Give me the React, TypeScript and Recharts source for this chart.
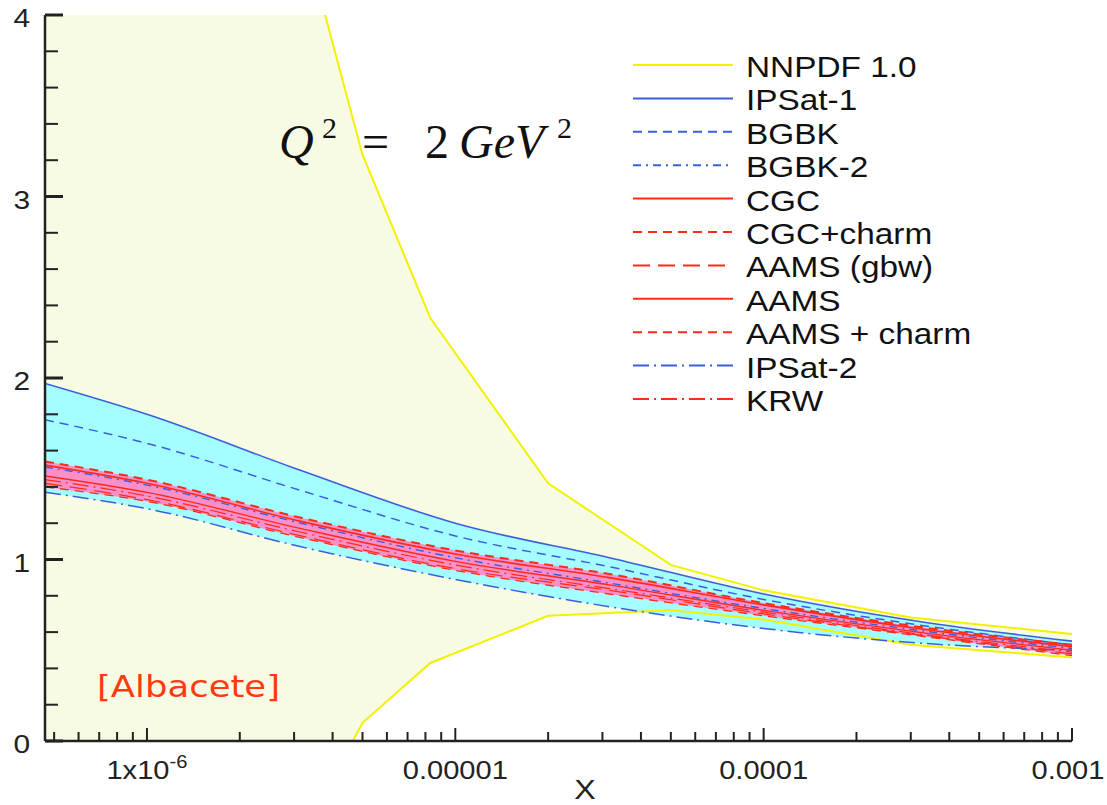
import React from 'react';
import { ComposedChart, Line, Area, XAxis, YAxis, Customized } from 'recharts';

// ---- data ----
const xGrid = [4.67e-7, 1e-6, 3.16e-6, 1e-5, 3.16e-5, 1e-4, 3.16e-4, 1e-3];
const ipsat1 = [1.97, 1.8, 1.49, 1.2, 1.01, 0.81, 0.66, 0.55];
const bgbk = [1.77, 1.64, 1.38, 1.13, 0.96, 0.78, 0.64, 0.53];
const bgbk2 = [1.51, 1.41, 1.2, 1.01, 0.87, 0.73, 0.61, 0.51];
const cgcCharm = [1.54, 1.44, 1.23, 1.05, 0.92, 0.76, 0.63, 0.53];
const aams = [1.52, 1.42, 1.21, 1.03, 0.9, 0.75, 0.62, 0.52];
const cgc = [1.46, 1.37, 1.17, 0.99, 0.86, 0.72, 0.6, 0.5];
const krw = [1.44, 1.35, 1.15, 0.97, 0.84, 0.71, 0.59, 0.49];
const aamsGbw = [1.42, 1.33, 1.13, 0.95, 0.83, 0.7, 0.585, 0.48];
const aamsCharm = [1.4, 1.32, 1.12, 0.94, 0.81, 0.69, 0.58, 0.47];
const ipsat2 = [1.37, 1.28, 1.07, 0.89, 0.74, 0.62, 0.54, 0.5];

const nnpdfX = [4.67e-7, 3e-6, 5e-6, 8.3e-6, 2e-5, 5e-5, 1e-4, 3e-4, 1e-3];
const nnpdfUpper = [10, 4.64, 3.23, 2.33, 1.42, 0.97, 0.83, 0.68, 0.59];
const nnpdfLower = [-5, -0.61, 0.1, 0.43, 0.69, 0.72, 0.67, 0.53, 0.46];

const yTicks = [0, 0.2, 0.4, 0.6, 0.8, 1, 1.2, 1.4, 1.6, 1.8, 2, 2.2, 2.4, 2.6, 2.8, 3, 3.2, 3.4, 3.6, 3.8, 4];
const yTickLabels = ['0', '1', '2', '3', '4'];
const xTicks = [
  5e-7, 6e-7, 7e-7, 8e-7, 9e-7,
  1e-6, 2e-6, 3e-6, 4e-6, 5e-6, 6e-6, 7e-6, 8e-6, 9e-6,
  1e-5, 2e-5, 3e-5, 4e-5, 5e-5, 6e-5, 7e-5, 8e-5, 9e-5,
  1e-4, 2e-4, 3e-4, 4e-4, 5e-4, 6e-4, 7e-4, 8e-4, 9e-4,
  1e-3,
];
const xMajor = [1e-6, 1e-5, 1e-4, 1e-3];
const xMajorLabels = ['1x10', '0.00001', '0.0001', '0.001'];

const BLUE = '#3b5fdc';
const RED = '#ff2a18';
const YELLOW = '#f2f200';

const legendItems = [
  { name: 'NNPDF 1.0', color: YELLOW, dash: undefined },
  { name: 'IPSat-1', color: BLUE, dash: undefined },
  { name: 'BGBK', color: BLUE, dash: '9 6' },
  { name: 'BGBK-2', color: BLUE, dash: '8 5 2 5' },
  { name: 'CGC', color: RED, dash: undefined },
  { name: 'CGC+charm', color: RED, dash: '9 6' },
  { name: 'AAMS (gbw)', color: RED, dash: '17 8' },
  { name: 'AAMS', color: RED, dash: undefined },
  { name: 'AAMS + charm', color: RED, dash: '9 6' },
  { name: 'IPSat-2', color: BLUE, dash: '16 5 2 5' },
  { name: 'KRW', color: RED, dash: '16 5 2 5' },
];

// ---- build table ----
type Row = { [k: string]: any };
const rowMap = new Map<number, Row>();
const getRow = (x: number) => {
  if (!rowMap.has(x)) rowMap.set(x, { x });
  return rowMap.get(x) as Row;
};
xGrid.forEach((x, i) => {
  const r = getRow(x);
  r.ipsat1 = ipsat1[i];
  r.bgbk = bgbk[i];
  r.bgbk2 = bgbk2[i];
  r.cgcCharm = cgcCharm[i];
  r.aams = aams[i];
  r.cgc = cgc[i];
  r.krw = krw[i];
  r.aamsGbw = aamsGbw[i];
  r.aamsCharm = aamsCharm[i];
  r.ipsat2 = ipsat2[i];
  r.cyan = [ipsat2[i], ipsat1[i]];
  r.pink = [aamsCharm[i], cgcCharm[i]];
});
nnpdfX.forEach((x, i) => {
  const r = getRow(x);
  r.nnUp = nnpdfUpper[i];
  r.nnLo = nnpdfLower[i];
  r.nnBand = [nnpdfLower[i], nnpdfUpper[i]];
});
const data = Array.from(rowMap.values()).sort((a, b) => a.x - b.x);

const SX = 1.15;
const FONT = 'Liberation Sans, Arial, Helvetica, sans-serif';
const INK = '#222';

const YTick = (props: any) => {
  const { x, y, payload } = props;
  const v = payload.value as number;
  const major = Math.abs(v - Math.round(v)) < 1e-6;
  const lbl = yTickLabels[Math.round(v)];
  return (
    <g>
      <line x1={x} x2={x + (major ? 18 : 13)} y1={y} y2={y} stroke={INK} strokeWidth={major ? 3 : 2} />
      {major && (
        <text transform={`translate(${x - 15},${y + 12}) scale(${SX},1)`} textAnchor="end" fontSize={26} fontFamily={FONT} fill={INK}>
          {lbl}
        </text>
      )}
    </g>
  );
};

const XTick = (props: any) => {
  const { x, y, payload } = props;
  const v = payload.value as number;
  const idx = xMajor.findIndex((m) => Math.abs(m - v) / m < 1e-6);
  const major = idx >= 0;
  const shift = idx === xMajor.length - 1 ? -4 : 0;
  return (
    <g>
      <line x1={x} x2={x} y1={y} y2={y - (major ? 13 : 9)} stroke={INK} strokeWidth={2} />
      {major && (
        <text transform={`translate(${x + shift},${y + 38}) scale(1.12,1)`} textAnchor="middle" fontSize={26} fontFamily={FONT} fill={INK}>
          {xMajorLabels[idx]}
          {idx === 0 && (
            <tspan fontSize={18} dy={-11}>-6</tspan>
          )}
        </text>
      )}
    </g>
  );
};

const LegendBlock = () => (
  <g>
    {legendItems.map((it, i) => {
      const ly = 65 + 33.4 * i;
      return (
        <g key={it.name}>
          <line x1={633} x2={733} y1={ly} y2={ly} stroke={it.color} strokeWidth={2} strokeDasharray={it.dash} />
          <text transform={`translate(746,${ly + 12}) scale(${SX},1)`} fontSize={29} fontFamily={FONT} fill="#111">
            {it.name}
          </text>
        </g>
      );
    })}
    <text transform={`translate(585,799) scale(${SX},1)`} textAnchor="middle" fontSize={28} fontFamily={FONT} fill={INK}>
      X
    </text>
  </g>
);

export default function App() {
  return (
    <div style={{ position: 'absolute', left: 0, top: 0, width: 1107, height: 805, background: '#fff' }}>
      <ComposedChart width={1107} height={805} data={data} margin={{ top: 15, right: 35, bottom: 0, left: 0 }}>
        <XAxis
          dataKey="x"
          type="number"
          scale="log"
          domain={[4.67e-7, 1e-3]}
          allowDataOverflow
          ticks={xTicks}
          interval={0}
          tick={<XTick />}
          tickLine={false}
          tickSize={0}
          tickMargin={0}
          height={64}
          axisLine={{ stroke: INK, strokeWidth: 2.5 }}
        />
        <XAxis
          xAxisId="top"
          dataKey="x"
          type="number"
          scale="log"
          domain={[4.67e-7, 1e-3]}
          allowDataOverflow
          orientation="top"
          height={0}
          tick={false}
          tickLine={false}
          axisLine={{ stroke: INK, strokeWidth: 2 }}
        />
        <YAxis
          type="number"
          domain={[0, 4]}
          allowDataOverflow
          ticks={yTicks}
          interval={0}
          tick={<YTick />}
          tickLine={false}
          tickSize={0}
          tickMargin={0}
          width={45}
          axisLine={{ stroke: INK, strokeWidth: 2.5 }}
        />
        <YAxis
          yAxisId="right"
          orientation="right"
          type="number"
          domain={[0, 4]}
          width={0}
          tick={false}
          tickLine={false}
          axisLine={{ stroke: INK, strokeWidth: 2 }}
        />

        <Area dataKey="nnBand" type="linear" stroke="none" fill="#f8fbe4" fillOpacity={1} connectNulls isAnimationActive={false} />
        <Area dataKey="cyan" type="monotone" stroke="none" fill="#a4fdff" fillOpacity={1} connectNulls isAnimationActive={false} />
        <Area dataKey="pink" type="monotone" stroke="none" fill="#fb8fc9" fillOpacity={1} connectNulls isAnimationActive={false} />

        <Line dataKey="nnUp" type="linear" stroke={YELLOW} strokeWidth={2} dot={false} activeDot={false} connectNulls isAnimationActive={false} />
        <Line dataKey="nnLo" type="linear" stroke={YELLOW} strokeWidth={2} dot={false} activeDot={false} connectNulls isAnimationActive={false} />

        <Line dataKey="ipsat1" type="monotone" stroke={BLUE} strokeWidth={1.6} dot={false} activeDot={false} connectNulls isAnimationActive={false} />
        <Line dataKey="bgbk" type="monotone" stroke={BLUE} strokeWidth={1.5} strokeDasharray="9 6" dot={false} activeDot={false} connectNulls isAnimationActive={false} />
        <Line dataKey="ipsat2" type="monotone" stroke={BLUE} strokeWidth={1.5} strokeDasharray="16 5 2 5" dot={false} activeDot={false} connectNulls isAnimationActive={false} />
        <Line dataKey="aamsCharm" type="monotone" stroke={RED} strokeWidth={1.3} strokeDasharray="9 6" dot={false} activeDot={false} connectNulls isAnimationActive={false} />
        <Line dataKey="aamsGbw" type="monotone" stroke={RED} strokeWidth={1.2} strokeDasharray="17 8" dot={false} activeDot={false} connectNulls isAnimationActive={false} />
        <Line dataKey="krw" type="monotone" stroke={RED} strokeWidth={1.2} strokeDasharray="16 5 2 5" dot={false} activeDot={false} connectNulls isAnimationActive={false} />
        <Line dataKey="cgc" type="monotone" stroke={RED} strokeWidth={1.4} dot={false} activeDot={false} connectNulls isAnimationActive={false} />
        <Line dataKey="aams" type="monotone" stroke={RED} strokeWidth={1.6} dot={false} activeDot={false} connectNulls isAnimationActive={false} />
        <Line dataKey="cgcCharm" type="monotone" stroke={RED} strokeWidth={2} strokeDasharray="9 6" dot={false} activeDot={false} connectNulls isAnimationActive={false} />
        <Line dataKey="bgbk2" type="monotone" stroke={BLUE} strokeWidth={1.4} strokeDasharray="8 5 2 5" dot={false} activeDot={false} connectNulls isAnimationActive={false} />

        <Customized component={<LegendBlock />} />
      </ComposedChart>
      <svg width={1107} height={805} style={{ position: 'absolute', left: 0, top: 0, pointerEvents: 'none' }}>
        <text fontFamily="Liberation Serif, DejaVu Serif, serif" fontSize={48} fill="#111">
          <tspan x={279} y={158} fontStyle="italic">Q</tspan>
          <tspan x={322} y={138} fontSize={30}>2</tspan>
          <tspan x={362} y={158}>=</tspan>
          <tspan x={425} y={158}>2</tspan>
          <tspan x={459} y={158} fontStyle="italic">GeV</tspan>
          <tspan x={557} y={138} fontSize={30}>2</tspan>
        </text>
        <text x={97} y={697} fontSize={31} fontFamily="DejaVu Sans, sans-serif" fill="#ff3a10" textLength={183} lengthAdjust="spacingAndGlyphs">
          [Albacete]
        </text>
      </svg>
    </div>
  );
}
